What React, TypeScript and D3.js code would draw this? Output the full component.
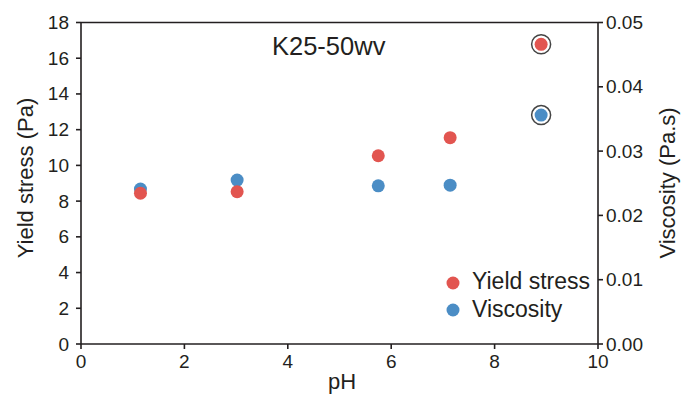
import React from "react";
import * as d3 from "d3";

// pH values of the samples
const phValues = [1.15, 3.02, 5.75, 7.14, 8.9];
// Yield stress (Pa), left axis
const yieldStress = [8.44, 8.53, 10.54, 11.55, 16.78];
// Viscosity (Pa.s), right axis
const viscosity = [0.0241, 0.0255, 0.0246, 0.0247, 0.0356];
// Index of the sample circled on the chart
const highlighted = [4];

const xTicks = [0, 2, 4, 6, 8, 10];
const leftTicks = [0, 2, 4, 6, 8, 10, 12, 14, 16, 18];
const rightTicks = [0, 0.01, 0.02, 0.03, 0.04, 0.05];

const RED = "#e25550";
const BLUE = "#4b8dc5";
const INK = "#231f20";
const FONT = "'Liberation Sans', Arial, Helvetica, sans-serif";

export default function App() {
  const W = 681;
  const H = 396;
  const left = 81;
  const right = 598;
  const top = 22.5;
  const bottom = 344;

  const x = d3.scaleLinear().domain([0, 10]).range([left, right]);
  const yL = d3.scaleLinear().domain([0, 18]).range([bottom, top]);
  const yR = d3.scaleLinear().domain([0, 0.05]).range([bottom, top]);

  return (
    <svg
      width={W}
      height={H}
      style={{ position: "absolute", left: 0, top: 0, background: "#fff" }}
      fontFamily={FONT}
    >
      {/* frame: top line, left and right axes, bottom axis */}
      <g stroke={INK} strokeWidth={1.6} fill="none">
        <line x1={left} x2={right} y1={top} y2={top} />
        <line x1={left} x2={left} y1={top} y2={bottom} />
        <line x1={right} x2={right} y1={top} y2={bottom} />
        <line x1={left} x2={right} y1={bottom} y2={bottom} />
      </g>

      {/* bottom axis */}
      {xTicks.map((t) => (
        <g key={"x" + t}>
          <line x1={x(t)} x2={x(t)} y1={bottom} y2={bottom + 5} stroke={INK} strokeWidth={1.6} />
          <text x={x(t)} y={368} textAnchor="middle" fontSize={19} fill={INK}>
            {t}
          </text>
        </g>
      ))}

      {/* left axis */}
      {leftTicks.map((t) => (
        <g key={"l" + t}>
          <line x1={left - 5} x2={left} y1={yL(t)} y2={yL(t)} stroke={INK} strokeWidth={1.6} />
          <text x={left - 12} y={yL(t) + 6.5} textAnchor="end" fontSize={19} fill={INK}>
            {t}
          </text>
        </g>
      ))}

      {/* right axis */}
      {rightTicks.map((t) => (
        <g key={"r" + t}>
          <line x1={right} x2={right + 5} y1={yR(t)} y2={yR(t)} stroke={INK} strokeWidth={1.6} />
          <text x={right + 8} y={yR(t) + 6.5} textAnchor="start" fontSize={19} fill={INK}>
            {d3.format(".2f")(t)}
          </text>
        </g>
      ))}

      {/* axis titles */}
      <text x={342} y={389} textAnchor="middle" fontSize={22} fill={INK}>
        pH
      </text>
      <text
        transform={`translate(33,178) rotate(-90)`}
        textAnchor="middle"
        fontSize={22}
        fill={INK}
      >
        Yield stress (Pa)
      </text>
      <text
        transform={`translate(675,183) rotate(-90)`}
        textAnchor="middle"
        fontSize={22}
        fill={INK}
      >
        Viscosity (Pa.s)
      </text>

      {/* chart label */}
      <text x={272} y={55} fontSize={25.5} fill={INK}>
        K25-50wv
      </text>

      {/* highlight rings */}
      {highlighted.map((i) => (
        <g key={"h" + i} fill="none" stroke="#444" strokeWidth={1.5}>
          <circle cx={x(phValues[i])} cy={yL(yieldStress[i])} r={9.5} />
          <circle cx={x(phValues[i])} cy={yR(viscosity[i])} r={9.5} />
        </g>
      ))}

      {/* viscosity points */}
      {phValues.map((p, i) => (
        <circle key={"v" + i} cx={x(p)} cy={yR(viscosity[i])} r={6.5} fill={BLUE} />
      ))}
      {/* yield stress points */}
      {phValues.map((p, i) => (
        <circle key={"y" + i} cx={x(p)} cy={yL(yieldStress[i])} r={6.5} fill={RED} />
      ))}

      {/* legend */}
      <circle cx={453} cy={283} r={6.5} fill={RED} />
      <text x={472} y={289} fontSize={23} fill={INK}>
        Yield stress
      </text>
      <circle cx={453} cy={310} r={6.5} fill={BLUE} />
      <text x={472} y={317} fontSize={23} fill={INK}>
        Viscosity
      </text>
    </svg>
  );
}
